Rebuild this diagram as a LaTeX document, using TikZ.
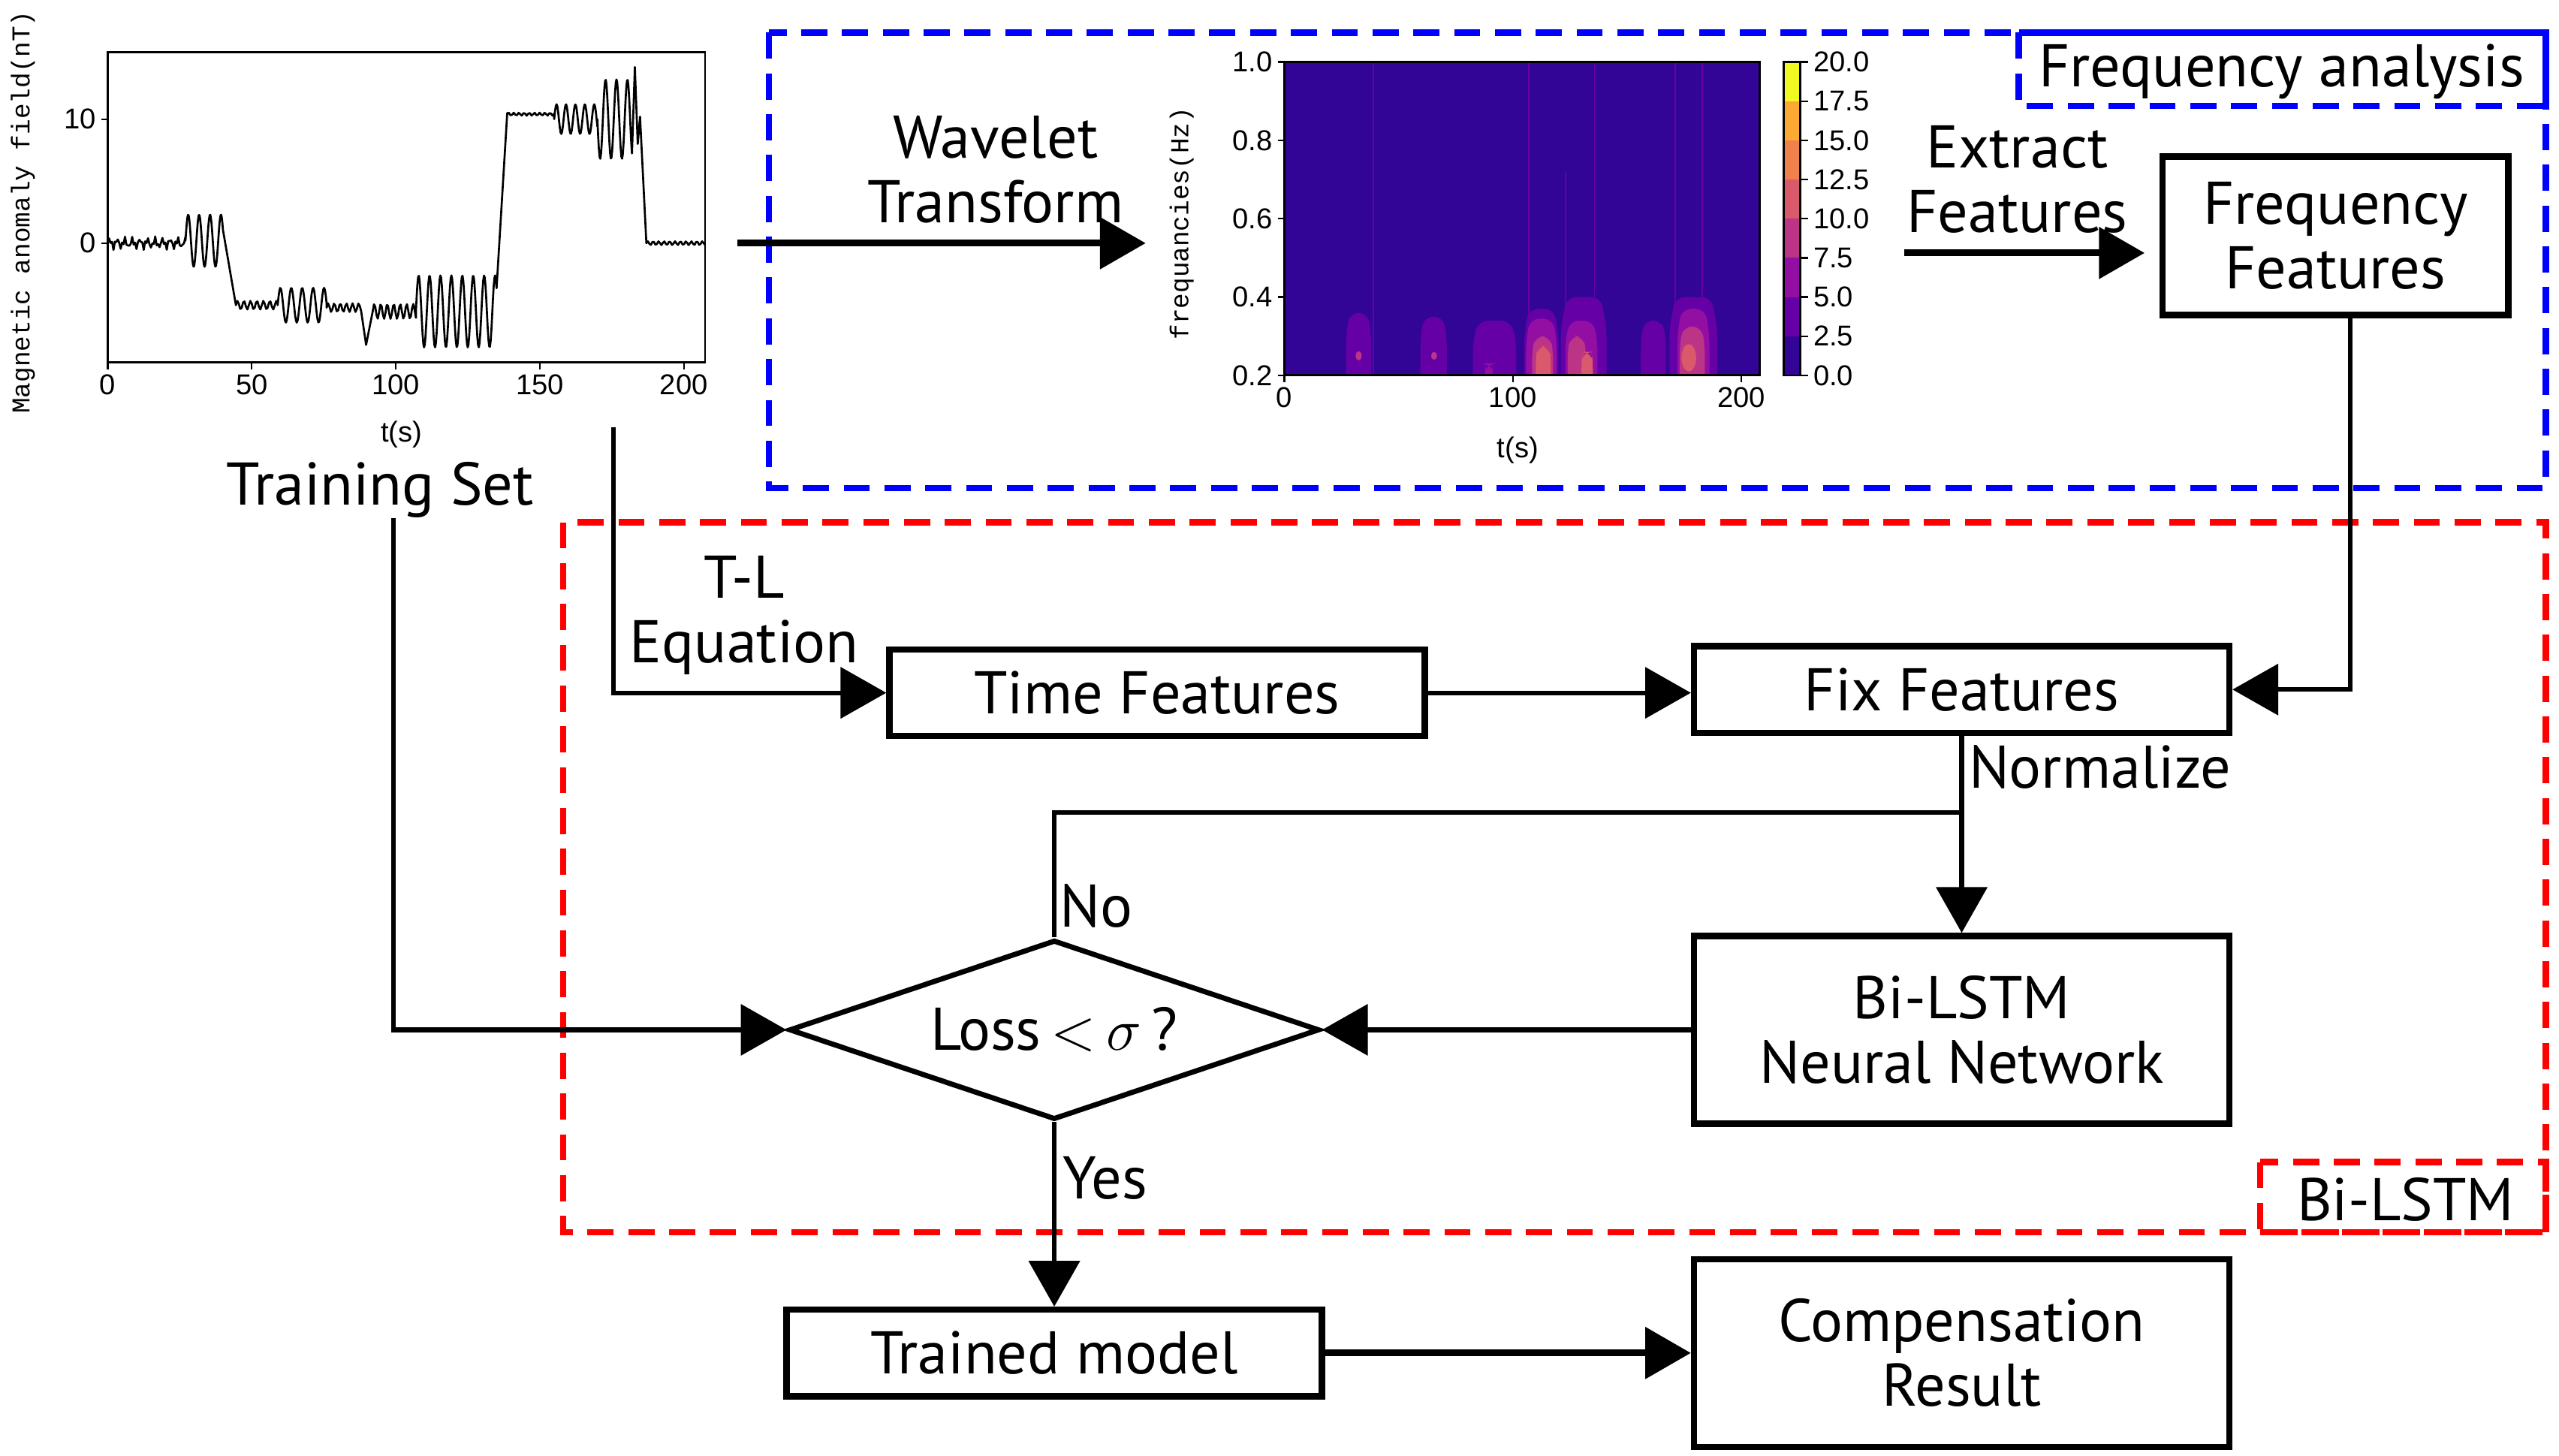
\documentclass[tikz,border=0pt]{standalone}
\usepackage{fontspec}
\setmainfont{PT Sans}
\newfontfamily\tickfont{Liberation Sans}
\newfontfamily\monofont{Liberation Mono}
\usetikzlibrary{positioning,arrows.meta,shapes.geometric}
\definecolor{pc0}{HTML}{330597}
\definecolor{pc1}{HTML}{6500A7}
\definecolor{pc2}{HTML}{930FA3}
\definecolor{pc3}{HTML}{BB3486}
\definecolor{pc4}{HTML}{DA5A6B}
\definecolor{pc5}{HTML}{F0814D}
\definecolor{pc6}{HTML}{FCAA34}
\definecolor{pc7}{HTML}{F0F921}
\tikzset{block/.style={draw,line width=2.2pt,minimum width=65.6mm,minimum height=10.6mm,align=center,inner sep=0pt}}
\tikzset{>={Triangle[length=5.6mm,width=6.2mm]}}
\tikzset{conn/.style={line width=1.6pt}}
\tikzset{bigarrow/.style={line width=2.4pt,->}}
\tikzset{region/.style={line width=2.2pt,dash pattern=on 3.2mm off 1.8mm}}
\tikzset{lbl/.style={align=center,inner sep=0pt}}
\tikzset{tick/.style={font=\tickfont\fontsize{10}{12}\selectfont,inner sep=1.5pt}}
\tikzset{axlab/.style={font=\monofont\fontsize{9}{11}\selectfont,inner sep=0pt}}
\newcommand{\blob}[4]{\fill[#1,rounded corners=1.2mm] ({#2-#3},0.15) -- ({#2-#3},{0.2+0.6*#4}) -- ({#2-0.75*#3},{0.2+#4}) -- ({#2+0.75*#3},{0.2+#4}) -- ({#2+#3},{0.2+0.6*#4}) -- ({#2+#3},0.15) -- cycle;}

\begin{document}
\begin{tikzpicture}[x=0.2mm,y=-0.2mm,font=\fontsize{21}{22.5}\selectfont]
    \useasboundingbox (0,0) rectangle (1568,892);

    % dashed regions
    \draw [region,blue] (471,20) rectangle (1560,299);
    \draw [region,blue] (1237,20) rectangle (1560,65);
    \node (fa) [lbl] at (1398,44) {Frequency analysis};
    \draw [region,red] (345,320) rectangle (1560,755);
    \draw [region,red] (1385,712) rectangle (1560,755);
    \node (bl) [lbl] at (1474,735) {Bi-LSTM};

    % magnetic anomaly signal
    \begin{scope}[shift={(66,149)},xscale=1.765,yscale=-7.6]
        \draw [line width=0.6pt] (0,-9.6) rectangle (207.4,15.4);
        \foreach \tk in {0,50,100,150,200}
            \draw [line width=0.6pt] (\tk,-9.6) -- (\tk,-10.15) node [tick,below] {\tk};
        \foreach \vk in {0,10}
            \draw [line width=0.6pt] (0,\vk) -- (-2.3,\vk) node [tick,left] {\vk};
        \draw [line width=0.7pt,line join=round]
            plot [domain=0:27,samples=55] (\x,{0.3*sin(\x*137)+0.25*sin(\x*311)})
            -- plot [domain=27:40,samples=60] (\x,{0.2+2.1*sin((\x-27)*95)})
            -- (44.5,-5)
            -- plot [domain=44.5:59,samples=30] (\x,{-5+0.35*sin((\x-44.5)*160)})
            -- plot [domain=59:76,samples=60] (\x,{-5+1.4*sin((\x-59)*95)})
            -- plot [domain=76:88,samples=25] (\x,{-5.2+0.35*sin((\x-76)*170)})
            -- (89.7,-8.2) -- (92,-5.5)
            -- plot [domain=92:107,samples=35] (\x,{-5.5+0.6*sin((\x-92)*160)})
            -- plot [domain=107:135,samples=110] (\x,{-5.5+2.9*sin((\x-107)*95)})
            -- (135.5,-1.7) -- (138.7,10.5)
            -- plot [domain=138.7:155,samples=30] (\x,{10.4+0.12*sin((\x-138.7)*200)})
            -- plot [domain=155:170,samples=55] (\x,{10+1.2*sin((\x-155)*110)})
            -- plot [domain=170:182,samples=50] (\x,{10-3.2*sin((\x-170)*95)})
            -- (183,14.2) -- (184,8) -- (184.8,10.2)
            -- (187,0)
            -- plot [domain=187:207.4,samples=40] (\x,{0.15*sin((\x-187)*190)});
    \end{scope}
    \node (maglab) [axlab,rotate=90] at (14,130) {Magnetic anomaly field(nT)};
    \node (tlab1) [tick] at (246,266) {t(s)};

    % wavelet spectrum
    \begin{scope}[shift={(787,278)},xscale=1.4,yscale=-240]
        \begin{scope}
            \clip (0,0.2) rectangle (207.9,1.0);
            \fill [pc0] (0,0.2) rectangle (207.9,1.0);
            \foreach \tk/\ftop in {39/1.0,107/1.0,123/0.72,135.7/1.0,171/1.0,183/1.0}
                \draw [pc1,line width=0.5pt] (\tk,0.2) -- (\tk,\ftop);
            \blob{pc1}{32.5}{5.5}{0.16}
            \blob{pc1}{65.3}{5.8}{0.15}
            \blob{pc1}{92}{9.5}{0.14}
            \blob{pc1}{112.5}{7.5}{0.17}
            \blob{pc1}{131}{10}{0.2}
            \blob{pc1}{161.5}{5.5}{0.14}
            \blob{pc1}{179}{10.5}{0.2}
            \blob{pc2}{112.5}{6.7}{0.145}
            \blob{pc2}{130}{7}{0.14}
            \blob{pc2}{179}{7}{0.17}
            \blob{pc2}{89.5}{1.6}{0.03}
            \blob{pc3}{113}{4.6}{0.1}
            \blob{pc3}{128}{4}{0.1}
            \blob{pc3}{178.5}{5.5}{0.125}
            \blob{pc4}{113.3}{3.3}{0.075}
            \blob{pc4}{132.5}{2.5}{0.06}
            \fill [pc4] (177,0.245) ellipse [x radius=3.2, y radius=0.035];
            \fill [pc3] (32.5,0.25) ellipse [x radius=1.3, y radius=0.012];
            \fill [pc3] (65.5,0.25) ellipse [x radius=1.3, y radius=0.01];
        \end{scope}
        \draw [line width=0.8pt] (0,0.2) rectangle (207.9,1.0);
        \foreach \tk in {0,100,200}
            \draw [line width=0.6pt] (\tk,0.2) -- (\tk,0.183) node [tick,below] {\tk};
        \foreach \fk in {0.2,0.4,0.6,0.8,1.0}
            \draw [line width=0.6pt] (0,\fk) -- (-2.9,\fk) node [tick,left] {\fk};
    \end{scope}
    \node (flab) [axlab,rotate=90] at (724,137) {frequancies(Hz)};
    \node (tlab2) [tick] at (930,276) {t(s)};

    % colour bar
    \foreach \i/\c in {0/pc0,1/pc1,2/pc2,3/pc3,4/pc4,5/pc5,6/pc6,7/pc7}
        \fill [\c] (1093,{230-24*(\i+1)}) rectangle (1103,{230-24*\i});
    \draw [line width=0.6pt] (1093,38) rectangle (1103,230);
    \foreach \i/\v in {0/0.0,1/2.5,2/5.0,3/7.5,4/10.0,5/12.5,6/15.0,7/17.5,8/20.0}
        \draw [line width=0.6pt] (1103,{230-24*\i}) -- (1108,{230-24*\i}) node [tick,right] {\v};

    % flow chart
    \node (train) [lbl] at (233,300) {Training Set};
    \node (wave) [lbl] at (610,104) {Wavelet\\Transform};
    \node (extract) [lbl] at (1236,110) {Extract\\Features};
    \node (freq) [block,minimum width=42.4mm,minimum height=19.4mm] at (1431,144.5) {Frequency\\Features};
    \node (tleq) [lbl] at (456,377) {T-L\\Equation};
    \node (time) [block] at (709,424.5) {Time Features};
    \node (fix) [block] at (1202,422.5) {Fix Features};
    \node (norm) [lbl,anchor=west] at (1206,470) {Normalize};
    \node (bilstm) [block,minimum height=23mm] at (1202,631) {Bi-LSTM\\Neural Network};
    \node (loss) [draw,diamond,line width=1.8pt,minimum width=65mm,minimum height=22mm,inner sep=0pt,aspect=3] at (646,631) {Loss\,$<$\,$\sigma$\,?};
    \node (no) [lbl,anchor=west] at (649,555) {No};
    \node (yes) [lbl,anchor=west] at (651,722) {Yes};
    \node (trained) [block] at (646,829) {Trained model};
    \node (comp) [block,minimum height=23mm] at (1202,829) {Compensation\\Result};

    \coordinate (wtin) at (452,149);
    \coordinate (wtout) at (702,149);
    \coordinate (exin) at (1167,155);
    \coordinate (tlin) at (376,262);
    \coordinate (nrm) at (1202,498);

    \draw [bigarrow] (wtin) -- (wtout);
    \draw [bigarrow] (exin) -- ([xshift=-1.8mm]exin -| freq.west);
    \draw [conn,->] ([xshift=1.8mm]freq.south) |- (fix.east);
    \draw [conn,->] (tlin) |- (time.west);
    \draw [conn,->] (time.east) -- (time.east -| fix.west);
    \draw [conn,->] (fix) -- (bilstm);
    \draw [conn] (loss.north) |- (nrm);
    \draw [conn,->] (bilstm) -- (loss);
    \draw [conn,->] ([xshift=1.6mm]train.south) |- (loss.west);
    \draw [conn,->] (loss) -- (trained);
    \draw [bigarrow] (trained) -- (comp);
\end{tikzpicture}
\end{document}
